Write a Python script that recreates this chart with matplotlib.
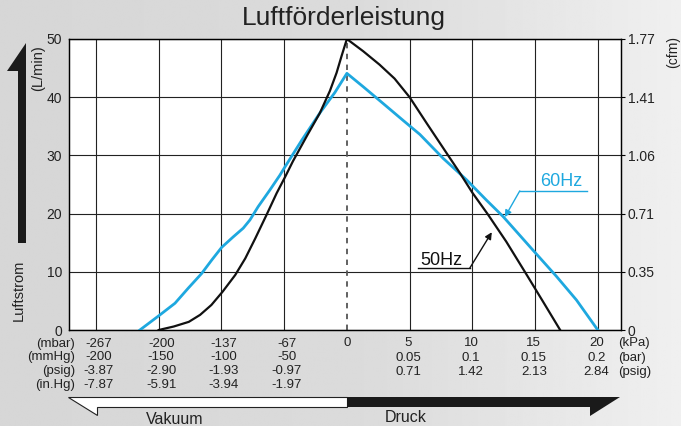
import numpy as np
import matplotlib
matplotlib.use("Agg")
import matplotlib.pyplot as plt
import matplotlib.transforms as mtransforms
from matplotlib.patches import Polygon

plt.rcParams['font.family'] = ['Liberation Sans', 'DejaVu Sans']

# 50Hz / 60Hz curves, x in "grid units" (5 units per grid column, 0 = atmospheric)
x_50hz = [-15.0, -13.8, -12.6, -11.7, -10.8, -9.9, -8.9, -8.1, -7.3, -6.4, -5.6, -4.9,
          -4.3, -3.2, -2.15, -1.35, -0.82, -0.42, 0,
          1.3, 2.6, 3.8, 5.0, 6.4, 8.07, 9.0, 10.0, 11.26, 12.7, 14.3, 15.6, 17.0]
y_50hz = [0, 0.6, 1.4, 2.6, 4.3, 6.6, 9.45, 12.3, 15.75, 19.8, 23.5, 26.4,
          29.0, 33.3, 37.3, 41.1, 44.2, 47.1, 50,
          47.9, 45.6, 43.2, 40.0, 35.4, 30.0, 27.0, 23.6, 19.8, 15.2, 9.6, 5.0, 0]
x_60hz = [-16.5, -14.9, -13.7, -12.64, -11.58, -10.78, -9.98, -9.06, -8.26, -7.73, -7.07,
          -6.14, -5.34, -5.0, -3.6, -2.15, -0.96, 0,
          1.3, 2.9, 4.49, 5.82, 7.67, 9.54, 11.13, 12.45, 14.84, 16.71, 18.3, 20.0]
y_60hz = [0, 2.6, 4.6, 7.2, 9.7, 12.0, 14.2, 16.0, 17.5, 18.9, 21.2,
          24.05, 26.6, 27.8, 32.6, 37.3, 40.8, 44.1,
          41.8, 38.9, 36.0, 33.6, 29.5, 25.8, 22.3, 19.5, 13.7, 9.2, 5.15, 0]

lmin_ticks = [0, 10, 20, 30, 40, 50]
cfm_labels = ['0', '0.35', '0.71', '1.06', '1.41', '1.77']

grid_x = [-20, -15, -10, -5, 5, 10, 15, 20]
vac_x = [-20, -15, -10, -5]
mbar_vals = ['-267', '-200', '-137', '-67']
mmhg_vals = ['-200', '-150', '-100', '-50']
psig_vac = ['-3.87', '-2.90', '-1.93', '-0.97']
inhg_vals = ['-7.87', '-5.91', '-3.94', '-1.97']
prs_x = [5, 10, 15, 20]
kpa_vals = ['5', '10', '15', '20']
bar_vals = ['0.05', '0.1', '0.15', '0.2']
psig_prs = ['0.71', '1.42', '2.13', '2.84']

W, H = 681, 426
fig = plt.figure(figsize=(W / 100, H / 100), dpi=100)
pix = mtransforms.Affine2D().scale(1 / W, -1 / H).translate(0, 1) + fig.transFigure

# background gradient
bg = fig.add_axes([0, 0, 1, 1], zorder=-10)
g = np.interp(np.linspace(0, 1, 300), [0, 0.55, 1], [0.84, 0.86, 0.94])
bg.imshow(np.tile(g, (2, 1)), cmap='gray', vmin=0, vmax=1, aspect='auto', extent=[0, 1, 0, 1])
bg.axis('off')

ax = fig.add_axes([69 / W, 1 - 330 / H, (621 - 69) / W, (330 - 39) / H])
ax.set_facecolor('white')
ax.set_xlim(-22.15, 21.85)
ax.set_ylim(0, 50)
ax.set_xticks(grid_x)
ax.set_yticks(lmin_ticks)
ax.tick_params(axis='x', length=0, labelbottom=False)
ax.tick_params(axis='y', length=0, labelsize=10, labelcolor='#222', pad=5)
ax.grid(True, color='#222', lw=0.8)
for s in ax.spines.values():
    s.set_color('#111')
    s.set_linewidth(1)
ax.axvline(0, color='#555', lw=1.3, ls=(0, (3, 3)))

ax2 = ax.twinx()
ax2.set_ylim(0, 50)
ax2.set_yticks(lmin_ticks)
ax2.set_yticklabels(cfm_labels)
ax2.tick_params(axis='y', length=3, width=0.8, labelsize=10, labelcolor='#222', pad=2)

blue = '#1ea8df'
ax.plot(x_60hz, y_60hz, color=blue, lw=2.0, zorder=3, solid_joinstyle='round')
ax.plot(x_50hz, y_50hz, color='#111', lw=1.6, zorder=4, solid_joinstyle='round')

# labels with leader lines
ax.plot([13.78, 19.12], [23.9, 23.9], color=blue, lw=1, zorder=5)
ax.annotate('', xy=(12.59, 19.4), xytext=(13.78, 23.9),
            arrowprops=dict(arrowstyle='-|>', color=blue, lw=1, mutation_scale=10, shrinkA=0, shrinkB=0))
ax.text(17.05, 25.5, '60Hz', color=blue, fontsize=13, ha='center', va='center')
ax.plot([5.66, 9.8], [10.65, 10.65], color='#111', lw=1, zorder=5)
ax.annotate('', xy=(11.55, 16.8), xytext=(9.8, 10.65),
            arrowprops=dict(arrowstyle='-|>', color='#111', lw=1, mutation_scale=10, shrinkA=0, shrinkB=0))
ax.text(7.5, 12.0, '50Hz', color='#111', fontsize=13, ha='center', va='center')

# title and axis captions
fig.text(344 / W, 1 - 18.5 / H, 'Luftförderleistung', fontsize=19, color='#222', ha='center', va='center')
fig.text(38 / W, 1 - 68 / H, '(L/min)', rotation=90, fontsize=10.5, color='#222', ha='center', va='center')
fig.text(19 / W, 1 - 290 / H, 'Luftstrom', rotation=90, fontsize=10.5, color='#222', ha='center', va='center')
fig.text(673 / W, 1 - 52 / H, '(cfm)', rotation=90, fontsize=10, color='#222', ha='center', va='center')

# pressure scales under the chart
tx = mtransforms.blended_transform_factory(ax.transData, pix)
fs = 9.5
rows_vac = [(344, '(mbar)', mbar_vals), (357, '(mmHg)', mmhg_vals),
            (371, '(psig)', psig_vac), (385, '(in.Hg)', inhg_vals)]
for yy, unit, vals in rows_vac:
    fig.text(75 / W, 1 - yy / H, unit, fontsize=fs, color='#222', ha='right', va='center')
    for xv, v in zip(vac_x, vals):
        ax.text(xv + 0.2, yy, v, transform=tx, fontsize=fs, color='#222', ha='center', va='center')
ax.text(0, 343, '0', transform=tx, fontsize=fs, color='#222', ha='center', va='center')
rows_prs = [(343, '(kPa)', kpa_vals), (358, '(bar)', bar_vals), (372, '(psig)', psig_prs)]
for yy, unit, vals in rows_prs:
    fig.text(618 / W, 1 - yy / H, unit, fontsize=fs, color='#222', ha='left', va='center')
    for xv, v in zip(prs_x, vals):
        ax.text(xv - 0.1, yy, v, transform=tx, fontsize=fs, color='#222', ha='center', va='center')

# big arrows
fig.patches.append(Polygon([(18, 243), (26, 243), (26, 43), (7, 71), (18, 71)],
                           closed=True, transform=pix, facecolor='#1a1a1a', edgecolor='none'))
fig.patches.append(Polygon([(68, 397), (347, 397), (347, 407), (97, 407), (97, 415)],
                           closed=True, transform=pix, facecolor='white', edgecolor='#222', lw=0.8))
fig.patches.append(Polygon([(347, 397), (620, 397), (590, 416), (590, 407), (347, 407)],
                           closed=True, transform=pix, facecolor='#1a1a1a', edgecolor='none'))
fig.text(175 / W, 1 - 419 / H, 'Vakuum', fontsize=11.5, color='#222', ha='center', va='center')
fig.text(406 / W, 1 - 418 / H, 'Druck', fontsize=11.5, color='#222', ha='center', va='center')

fig.savefig('out.png', dpi=100)
